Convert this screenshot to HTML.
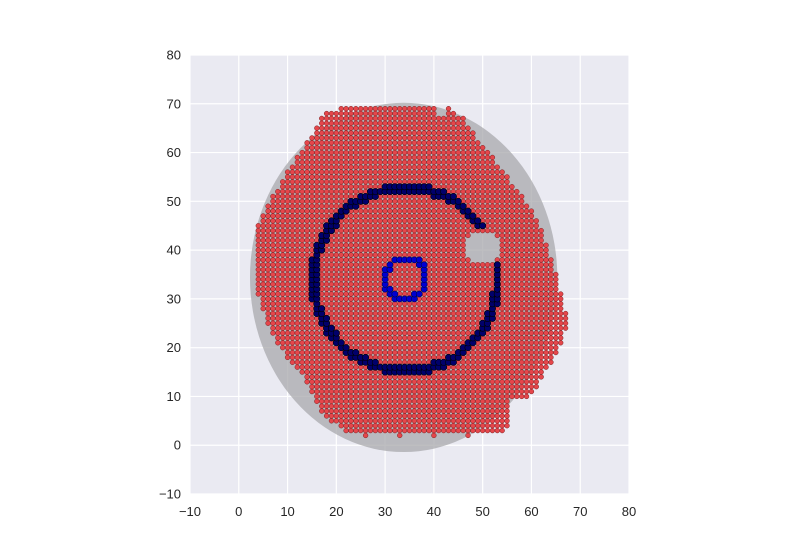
<!DOCTYPE html>
<html><head><meta charset="utf-8"><style>
html,body{margin:0;padding:0;background:#fff;}
svg{display:block;font-family:"Liberation Sans",sans-serif;}
</style></head><body>
<svg id="chart" width="800" height="550" viewBox="0 0 800 550" xmlns="http://www.w3.org/2000/svg">
<rect x="190" y="55" width="439" height="439" fill="#eaeaf2"/>
<g id="grid"></g>
<g id="ticks"></g>
<ellipse id="ell" fill="#a8a8ac" fill-opacity="0.75"/>
<g id="red"></g>
<g id="navy"></g>
<g id="blue"></g>
</svg>
<script>
const xTicks=[-10,0,10,20,30,40,50,60,70,80];
const yTicks=[-10,0,10,20,30,40,50,60,70,80];
const rowY=[69,68,67,66,65,64,63,62,61,60,59,58,57,56,55,54,53,52,51,50,49,48,47,46,45,44,43,42,41,40,39,38,37,36,35,34,33,32,31,30,29,28,27,26,25,24,23,22,21,20,19,18,17,16,15,14,13,12,11,10,9,8,7,6,5,4,3];
const rowLeft=[21,18,17,17,16,16,15,14,14,13,12,12,11,10,10,9,9,8,7,7,6,6,5,5,4,4,4,4,4,4,4,4,4,4,4,4,4,4,4,5,5,5,6,6,6,7,7,8,8,9,10,10,11,12,13,14,14,15,15,16,16,17,17,18,19,21,22];
const rowRight=[40,40,46,46,47,48,48,49,50,51,52,52,53,54,55,55,56,57,58,58,59,60,60,61,61,62,62,62,63,63,63,64,64,64,65,65,65,65,66,66,66,66,67,67,67,67,66,66,66,65,65,64,64,63,62,62,61,61,60,59,55,55,55,55,55,55,54];
const extraX=[43,43,44,26,33,40,47];
const extraY=[69,68,68,2,2,2,2];
const holeCenter=[50,40.5];
const holeRadius=[3.4];
const ellipseCenter=[33.8,34.4];
const ellipseRadii=[31.5,35.8];
const ringCenter=[34.2,34];
const ringRadius=[18.8];
const innerCenter=[34.2,34.2];
const innerRadius=[4.2];

const X=v=>190+(v+10)*439/90;
const Y=v=>494-(v+10)*439/90;
const NS="http://www.w3.org/2000/svg";
function mk(tag,attrs,parent){const e=document.createElementNS(NS,tag);for(const k in attrs)e.setAttribute(k,attrs[k]);parent.appendChild(e);return e;}
const grid=document.getElementById('grid'),ticks=document.getElementById('ticks');
xTicks.forEach(t=>{
  const l=mk('line',{x1:X(t),x2:X(t),y1:55,y2:494,stroke:'#fff','stroke-width':1.2},grid);
  
  
  const tx=mk('text',{x:X(t),y:516,'text-anchor':'middle','font-size':13,fill:'#262626'},ticks);
  tx.textContent=(t<0?'\u2212'+(-t):t);
  
  
});
yTicks.forEach(t=>{
  const l=mk('line',{x1:190,x2:629,y1:Y(t),y2:Y(t),stroke:'#fff','stroke-width':1.2},grid);
  
  
  const tx=mk('text',{x:181,y:Y(t)+4.5,'text-anchor':'end','font-size':13,fill:'#262626'},ticks);
  tx.textContent=(t<0?'\u2212'+(-t):t);
  
  
});
const ell=document.getElementById('ell');
ell.setAttribute('cx',X(ellipseCenter[0]));ell.setAttribute('cy',Y(ellipseCenter[1]));
ell.setAttribute('rx',ellipseRadii[0]*439/90);ell.setAttribute('ry',ellipseRadii[1]*439/90);
const red=document.getElementById('red');
function redPt(x,y){
  if(Math.hypot(x-holeCenter[0],y-holeCenter[1])<holeRadius[0])return;
  const c=mk('circle',{cx:X(x),cy:Y(y),r:2.4,fill:'#e5464b',stroke:'#7a2222','stroke-width':0.5},red);
  
  
}
rowY.forEach((y,i)=>{for(let x=rowLeft[i];x<=rowRight[i];x++)redPt(x,y);});
extraX.forEach((x,i)=>redPt(x,extraY[i]));
const navy=document.getElementById('navy');
for(let x=10;x<=60;x++)for(let y=10;y<=60;y++){
  const d=Math.hypot(x-ringCenter[0],y-ringCenter[1]);
  if(Math.abs(d-ringRadius[0])<=0.85 && Math.hypot(x-holeCenter[0],y-holeCenter[1])>holeRadius[0]+0.8){
    const c=mk('circle',{cx:X(x),cy:Y(y),r:3.2,fill:'#00006b',stroke:'#000','stroke-width':0.6},navy);
    
    
  }
}
const blue=document.getElementById('blue');
for(let x=25;x<=45;x++)for(let y=25;y<=45;y++){
  const d=Math.hypot(x-innerCenter[0],y-innerCenter[1]);
  if(Math.abs(d-innerRadius[0])<=0.6){
    const c=mk('circle',{cx:X(x),cy:Y(y),r:3.1,fill:'#0000d0',stroke:'#000040','stroke-width':0.6},blue);
    
    
  }
}
</script>
</body></html>
